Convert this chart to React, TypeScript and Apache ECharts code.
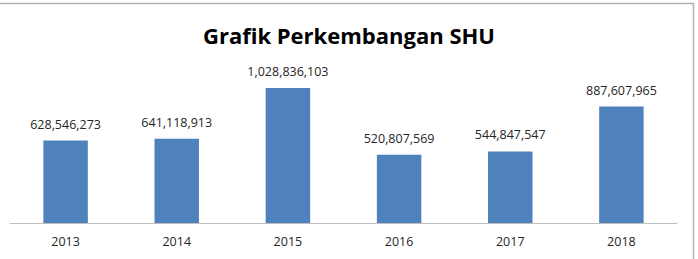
import React, { useEffect, useRef } from "react";
import * as echarts from "echarts";

const categories = ["2013", "2014", "2015", "2016", "2017", "2018"];
const shuValues = [628546273, 641118913, 1028836103, 520807569, 544847547, 887607965];
const chartTitle = "Grafik Perkembangan SHU";

const fmt = (v: number) => v.toLocaleString("en-US");

export default function App() {
  const ref = useRef<HTMLDivElement>(null);
  useEffect(() => {
    if (!ref.current) return;
    const chart = echarts.init(ref.current, null, { renderer: "svg" });
    chart.setOption({
      animation: false,
      backgroundColor: "#ffffff",
      title: {
        text: chartTitle,
        left: 344,
        textAlign: "center",
        top: 19,
        textStyle: {
          fontFamily: "Open Sans",
          fontWeight: "bold",
          fontSize: 22,
          color: "#000000",
        },
      },
      graphic: [
        { type: "line", shape: { x1: 0, y1: 3.5, x2: 693.5, y2: 3.5 }, style: { stroke: "#b3b3b3", lineWidth: 1.5 } },
        { type: "line", shape: { x1: 693.5, y1: 3, x2: 693.5, y2: 259 }, style: { stroke: "#b3b3b3", lineWidth: 1.5 } },
      ],
      grid: { left: 10, right: 21, top: 65.5, bottom: 36, containLabel: false },
      xAxis: {
        type: "category",
        data: categories,
        axisLine: { lineStyle: { color: "#bfbfbf", width: 1 } },
        axisTick: { show: false },
        axisLabel: { color: "#262626", fontFamily: "Open Sans", fontSize: 12.5, margin: 12 },
      },
      yAxis: {
        type: "value",
        min: 0,
        max: 1200000000,
        show: false,
        splitLine: { show: false },
      },
      series: [
        {
          type: "bar",
          data: shuValues,
          barWidth: "40%",
          itemStyle: { color: "#4f81bd" },
          label: {
            show: true,
            position: "top",
            distance: 10,
            color: "#262626",
            fontFamily: "Open Sans",
            fontSize: 12.5,
            formatter: (p: any) => fmt(p.value),
          },
        },
      ],
    });
    return () => chart.dispose();
  }, []);
  return (
    <div
      ref={ref}
      style={{ position: "fixed", left: 0, top: 0, width: 698, height: 259 }}
    />
  );
}
